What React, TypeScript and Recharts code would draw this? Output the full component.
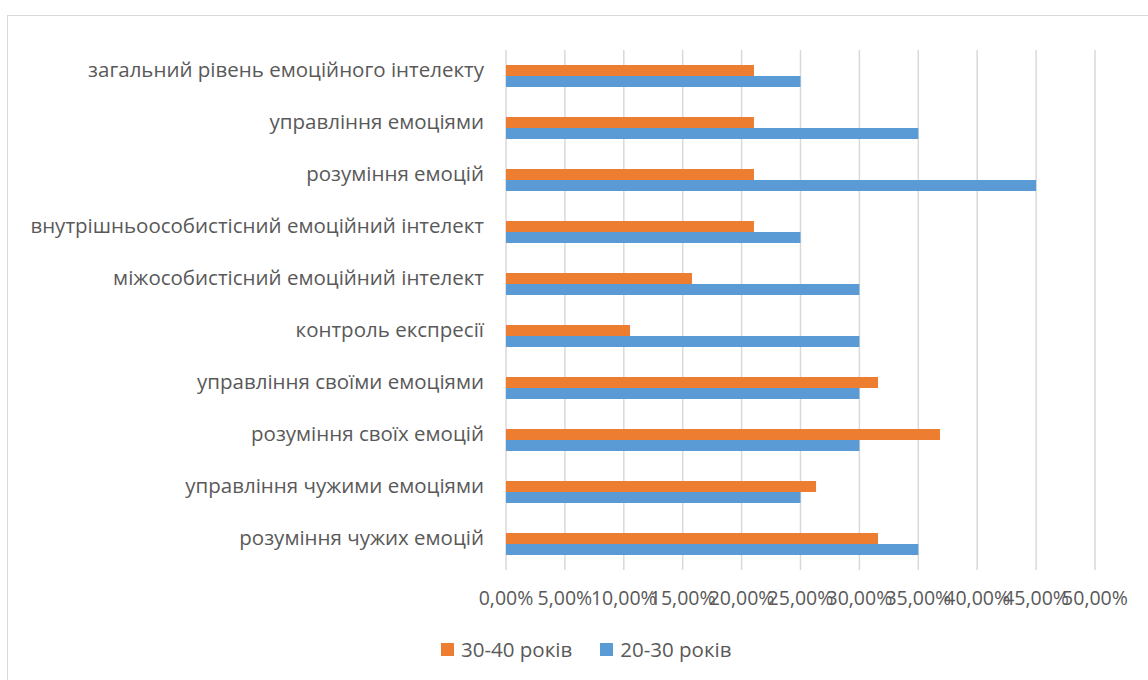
import React from "react";
import { BarChart, Bar, XAxis, YAxis, CartesianGrid, Legend } from "recharts";

const categories = [
  "загальний рівень емоційного інтелекту",
  "управління емоціями",
  "розуміння емоцій",
  "внутрішньоособистісний емоційний інтелект",
  "міжособистісний емоційний інтелект",
  "контроль експресії",
  "управління своїми емоціями",
  "розуміння своїх емоцій",
  "управління чужими емоціями",
  "розуміння чужих емоцій",
];

// shares per age group
const age30to40 = [0.2105, 0.2105, 0.2105, 0.2105, 0.1579, 0.1053, 0.3158, 0.3684, 0.2632, 0.3158];
const age20to30 = [0.25, 0.35, 0.45, 0.25, 0.3, 0.3, 0.3, 0.3, 0.25, 0.35];

const xTicks = [0, 0.05, 0.1, 0.15, 0.2, 0.25, 0.3, 0.35, 0.4, 0.45, 0.5];

const seriesNames = ["30-40 років", "20-30 років"];
const ORANGE = "#ED7D31";
const BLUE = "#5B9BD5";
const TEXT = "#595959";
const GRID = "#D9D9D9";
const FONT = "'Open Sans', sans-serif";
const LABEL_SIZE = 20.5;
const TICK_SIZE = 19.5;

const data = categories.map((name, i) => ({
  name,
  a: age30to40[i],
  b: age20to30[i],
}));

const pct = (v: number) => (v * 100).toFixed(2).replace(".", ",") + "%";

function CategoryTick(props: any) {
  const { x, y, payload } = props;
  return (
    <text
      x={x}
      y={y - 6}
      dy="0.355em"
      textAnchor="end"
      fill={TEXT}
      fontSize={LABEL_SIZE}
      fontFamily={FONT}
    >
      {payload.value}
    </text>
  );
}

function LegendBox() {
  const items = [
    { label: seriesNames[0], color: ORANGE },
    { label: seriesNames[1], color: BLUE },
  ];
  return (
    <div style={{ display: "flex", alignItems: "center", fontFamily: FONT, fontSize: LABEL_SIZE, color: TEXT, lineHeight: "20px" }}>
      {items.map((it, i) => (
        <div key={it.label} style={{ display: "flex", alignItems: "center", marginRight: i === 0 ? 28 : 0 }}>
          <span style={{ width: 13, height: 13, background: it.color, display: "inline-block", marginRight: 7 }} />
          <span>{it.label}</span>
        </div>
      ))}
    </div>
  );
}

export default function App() {
  return (
    <div style={{ position: "fixed", left: 0, top: 0, width: 1148, height: 680, overflow: "hidden", background: "#fff" }}>
      <div
        style={{
          position: "absolute",
          left: 7,
          top: 15,
          width: 1200,
          height: 720,
          border: `1px solid ${GRID}`,
          background: "#fff",
        }}
      >
        <BarChart
          width={1140}
          height={664}
          data={data}
          layout="vertical"
          margin={{ top: 34, right: 53, left: 0, bottom: 50 }}
          barSize={11}
          barGap={0}
        >
          <CartesianGrid horizontal={false} stroke={GRID} strokeWidth={1.5} />
          <XAxis
            type="number"
            domain={[0, 0.5]}
            ticks={xTicks}
            tickFormatter={pct}
            axisLine={false}
            tickLine={false}
            tickSize={0}
            tickMargin={21}
            height={60}
            interval={0}
            tick={{ fill: TEXT, fontSize: TICK_SIZE, fontFamily: FONT }}
          />
          <YAxis
            type="category"
            dataKey="name"
            width={498}
            axisLine={false}
            tickLine={false}
            tickSize={0}
            tickMargin={22}
            interval={0}
            tick={<CategoryTick />}
          />
          <Legend
            layout="horizontal"
            verticalAlign="middle"
            align="center"
            content={<LegendBox />}
            wrapperStyle={{ position: "absolute", left: 433, top: 623, width: 400, height: 20 }}
          />
          <Bar dataKey="a" name={seriesNames[0]} fill={ORANGE} isAnimationActive={false} />
          <Bar dataKey="b" name={seriesNames[1]} fill={BLUE} isAnimationActive={false} />
        </BarChart>
      </div>
    </div>
  );
}
